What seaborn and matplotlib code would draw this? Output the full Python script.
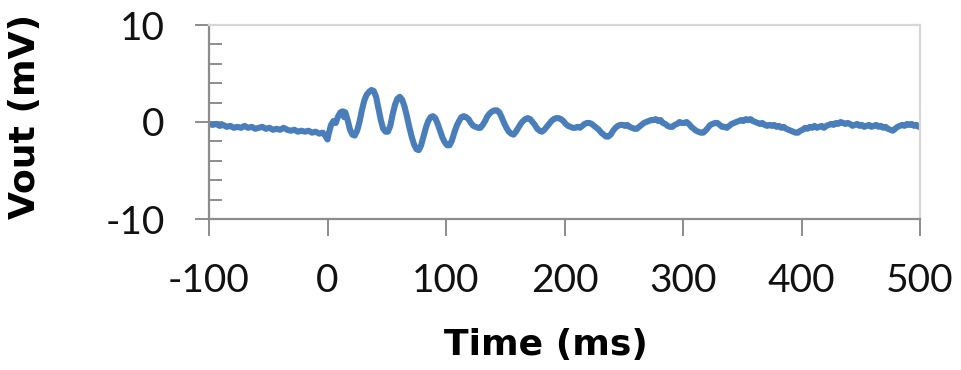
import matplotlib
matplotlib.use("Agg")
import matplotlib.pyplot as plt
from matplotlib.ticker import MultipleLocator
import seaborn as sns
import pandas as pd

# ---- data ----
time_pre = [-100, -97, -94, -91, -88, -85, -82, -79, -76, -73,
            -70, -67, -64, -61, -58, -55, -52, -49, -46, -43,
            -40, -37, -34, -31, -28, -25, -22, -19, -16, -13,
            -10, -7, -4, -2, 0]
vout_pre = [-0.2, -0.3, -0.2, -0.4, -0.3, -0.5, -0.4, -0.6, -0.5, -0.6,
            -0.4, -0.6, -0.5, -0.7, -0.6, -0.5, -0.7, -0.6, -0.8, -0.7,
            -0.8, -0.6, -0.8, -0.9, -0.8, -1.0, -0.9, -1.0, -0.9, -1.1,
            -1.0, -1.2, -1.1, -1.4, -1.8]

time_onset = [1, 3, 5, 7, 9, 11, 13, 14, 15, 17]
vout_onset = [-1.2, -0.3, 0.1, -0.1, 0.6, 1.0, 1.1, 0.5, 1.0, 0.2]

time_post = [
    19, 21, 23, 25, 27, 29, 31, 33, 35, 37,
    39, 41, 43, 45, 47, 49, 51, 53, 55, 57,
    59, 61, 63, 65, 67, 69, 71, 73, 75, 77,
    79, 81, 83, 85, 87, 89, 91, 93, 95, 97,
    99, 101, 103, 105, 107, 109, 111, 113, 115, 117,
    119, 121, 123, 125, 127, 129, 131, 133, 135, 137,
    139, 141, 143, 145, 147, 149, 151, 153, 155, 157,
    159, 161, 163, 165, 167, 169, 171, 173, 175, 177,
    179, 181, 183, 185, 187, 189, 191, 193, 195, 197,
    199, 201, 203, 205, 207, 209, 211, 213, 215, 217,
    219, 221, 223, 225, 227, 229, 231, 233, 235, 237,
    239, 241, 243, 245, 247, 249, 251, 253, 255, 257,
    259, 261, 263, 265, 267, 269, 271, 273, 275, 277,
    279, 281, 283, 285, 287, 289, 291, 293, 295, 297,
    299, 301, 303, 305, 307, 309, 311, 313, 315, 317,
    319, 321, 323, 325, 327, 329, 331, 333, 335, 337,
    339, 341, 343, 345, 347, 349, 351, 353, 355, 357,
    359, 361, 363, 365, 367, 369, 371, 373, 375, 377,
    379, 381, 383, 385, 387, 389, 391, 393, 395, 397,
    399, 401, 403, 405, 407, 409, 411, 413, 415, 417,
    419, 421, 423, 425, 427, 429, 431, 433, 435, 437,
    439, 441, 443, 445, 447, 449, 451, 453, 455, 457,
    459, 461, 463, 465, 467, 469, 471, 473, 475, 477,
    479, 481, 483, 485, 487, 489, 491, 493, 495, 497,
    499, 500]
vout_post = [
    -0.8, -1.3, -1.4, -0.9, 0.0, 1.2, 2.2, 2.8, 3.1, 3.3,
    3.2, 2.6, 1.4, 0.2, -0.7, -1.0, -1.0, -0.4, 0.8, 1.8,
    2.4, 2.6, 2.3, 1.6, 0.6, -0.5, -1.5, -2.3, -2.8, -2.9,
    -2.4, -1.5, -0.6, 0.1, 0.5, 0.6, 0.4, -0.2, -0.9, -1.6,
    -2.1, -2.4, -2.4, -1.9, -1.1, -0.4, 0.1, 0.5, 0.6, 0.5,
    0.3, -0.1, -0.4, -0.5, -0.6, -0.6, -0.3, 0.1, 0.6, 0.9,
    1.1, 1.2, 1.2, 1.0, 0.5, -0.1, -0.6, -1.0, -1.2, -1.3,
    -1.0, -0.6, -0.2, 0.1, 0.3, 0.4, 0.3, 0.0, -0.3, -0.7,
    -0.9, -1.0, -0.8, -0.5, -0.2, 0.1, 0.3, 0.4, 0.4, 0.3,
    0.1, -0.2, -0.4, -0.5, -0.6, -0.6, -0.5, -0.6, -0.4, -0.2,
    -0.1, -0.1, -0.2, -0.4, -0.6, -0.8, -1.1, -1.3, -1.5, -1.5,
    -1.3, -0.9, -0.6, -0.4, -0.3, -0.3, -0.4, -0.3, -0.5, -0.6,
    -0.7, -0.7, -0.5, -0.3, -0.1, 0.0, 0.1, 0.2, 0.2, 0.3,
    0.1, 0.2, -0.1, -0.2, -0.4, -0.5, -0.5, -0.3, -0.2, 0.0,
    -0.1, -0.1, 0.0, -0.2, -0.5, -0.7, -0.9, -1.0, -1.1, -1.1,
    -0.9, -0.6, -0.3, -0.2, -0.1, -0.1, -0.3, -0.5, -0.5, -0.6,
    -0.4, -0.2, -0.1, 0.0, 0.1, 0.2, 0.1, 0.3, 0.2, 0.3,
    0.1, 0.0, -0.1, -0.2, -0.1, -0.3, -0.4, -0.3, -0.4, -0.3,
    -0.5, -0.4, -0.6, -0.5, -0.7, -0.8, -0.9, -1.0, -1.1, -1.1,
    -0.9, -0.8, -0.6, -0.7, -0.5, -0.6, -0.4, -0.6, -0.5, -0.4,
    -0.6, -0.4, -0.3, -0.2, -0.3, -0.1, -0.2, 0.0, -0.1, -0.2,
    -0.1, -0.2, -0.4, -0.3, -0.2, -0.4, -0.3, -0.5, -0.4, -0.3,
    -0.5, -0.4, -0.3, -0.5, -0.4, -0.6, -0.5, -0.7, -0.8, -0.9,
    -0.7, -0.5, -0.4, -0.3, -0.4, -0.2, -0.3, -0.2, -0.4, -0.3,
    -0.5, -0.4]

x_ticks = [-100, 0, 100, 200, 300, 400, 500]
y_ticks = [-10, 0, 10]
x_label = "Time (ms)"
y_label = "Vout (mV)"

time_ms = time_pre + time_onset + time_post
vout_mv = vout_pre + vout_onset + vout_post
assert len(time_ms) == len(vout_mv)

df = pd.DataFrame({"t": time_ms, "v": vout_mv})

# ---- style ----
sns.set_style("white")
plt.rcParams["font.family"] = ["Lato", "DejaVu Sans"]
plt.rcParams["axes.unicode_minus"] = False

fig = plt.figure(figsize=(9.61, 3.70), dpi=100)
ax = fig.add_axes([209 / 961, 1 - 219 / 370, 711 / 961, 194 / 370])

sns.lineplot(data=df, x="t", y="v", ax=ax, color="#4a7ebb", linewidth=4.4,
             sort=False, estimator=None)

ax.set_xlim(-100, 500)
ax.set_ylim(-10, 10)
ax.set_xticks(x_ticks)
ax.set_yticks(y_ticks)
ax.yaxis.set_minor_locator(MultipleLocator(2))

dark = "#8c8c8c"
light = "#d6d6d6"
for s in ["left", "bottom"]:
    ax.spines[s].set_color(dark)
    ax.spines[s].set_linewidth(1.6)
for s in ["top", "right"]:
    ax.spines[s].set_color(light)
    ax.spines[s].set_linewidth(1.6)

ax.tick_params(axis="x", which="major", direction="out", length=12,
               width=1.4, color=dark, labelsize=28, pad=20, bottom=True)
ax.tick_params(axis="y", which="major", direction="inout", length=20,
               width=1.4, color=dark, labelsize=28, pad=22, left=True)
ax.tick_params(axis="y", which="minor", direction="in", length=9,
               width=1.4, color=dark, left=True)
for lab in ax.get_xticklabels() + ax.get_yticklabels():
    lab.set_color("#111111")

ax.set_xlabel(x_label, fontsize=26, fontweight="bold", family=["DejaVu Sans"],
              color="#000000")
ax.set_ylabel(y_label, fontsize=26, fontweight="bold", family=["DejaVu Sans"],
              color="#000000")
ax.xaxis.set_label_coords(0.474, -0.56)
ax.yaxis.set_label_coords(-0.235, 0.53)

fig.savefig("out.png", dpi=100)
